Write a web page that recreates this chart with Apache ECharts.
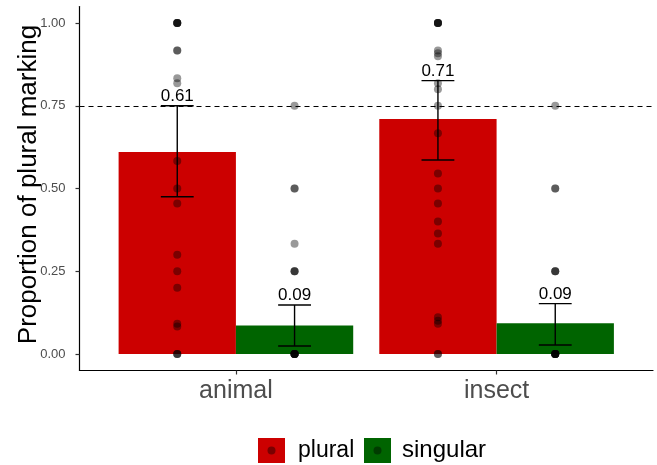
<!DOCTYPE html>
<html><head><meta charset="utf-8">
<script src="https://cdn.jsdelivr.net/npm/echarts@6/dist/echarts.min.js"></script>
<style>html,body{margin:0;padding:0;background:#fff}#c{width:657px;height:465px}</style>
</head><body><div id="c"></div>
<script>
// ---- data ----
const categories = ['animal', 'insect'];
const groups = ['plural', 'singular'];
const pluralMean = [0.61, 0.71];
const singularMean = [0.086, 0.093];
const pluralLow = [0.475, 0.586];
const pluralHigh = [0.75, 0.826];
const singularLow = [0.024, 0.027];
const singularHigh = [0.148, 0.152];
const animalPluralPts = [1, 1, 1, 1, 1, 0.917, 0.917, 0.833, 0.818, 0.583, 0.5, 0.455, 0.3, 0.25, 0.2, 0.091, 0.083, 0, 0, 0];
const animalSingularPts = [0.75, 0.5, 0.5, 0.333, 0.25, 0.25, 0.25, 0, 0, 0, 0, 0, 0, 0, 0];
const insectPluralPts = [1, 1, 1, 1, 1, 0.917, 0.909, 0.9, 0.818, 0.8, 0.75, 0.667, 0.545, 0.5, 0.455, 0.4, 0.364, 0.333, 0.111, 0.1, 0.091, 0, 0];
const insectSingularPts = [0.75, 0.5, 0.5, 0.25, 0.25, 0.25, 0, 0, 0, 0, 0, 0, 0, 0];
const yTicks = [0, 0.25, 0.5, 0.75, 1];
const refLine = 0.75;

// ---- style ----
const colors = ['#cc0000', '#006400'];
const DODGE = 0.225, BARW = 0.45, WHISK = 0.063;
const FONT = 'Liberation Sans, Arial, sans-serif';

function xPos(ci, gi) { return ci + 1 + (gi === 0 ? -DODGE : DODGE); }

const means = [pluralMean, singularMean];
const lows = [pluralLow, singularLow];
const highs = [pluralHigh, singularHigh];
const pts = [[animalPluralPts, animalSingularPts], [insectPluralPts, insectSingularPts]];

function barSeries(gi) {
  return {
    name: groups[gi], type: 'custom', z: 2,
    itemStyle: { color: colors[gi] },
    data: categories.map((c, ci) => [xPos(ci, gi), means[gi][ci]]),
    renderItem: function (params, api) {
      const xc = api.value(0), v = api.value(1);
      const p1 = api.coord([xc - BARW / 2, v]);
      const p2 = api.coord([xc + BARW / 2, 0]);
      return { type: 'rect', shape: { x: p1[0], y: p1[1], width: p2[0] - p1[0], height: p2[1] - p1[1] },
        style: { fill: colors[gi] } };
    }
  };
}

const errData = [];
const scatterData = [];
categories.forEach((c, ci) => {
  groups.forEach((g, gi) => {
    errData.push([xPos(ci, gi), lows[gi][ci], highs[gi][ci], means[gi][ci]]);
    pts[ci][gi].forEach(v => scatterData.push([xPos(ci, gi), v]));
  });
});

const option = {
  animation: false,
  textStyle: { fontFamily: FONT },
  grid: { left: 79.5, right: 4, top: 6.5, bottom: 94.5, containLabel: false, outerBoundsMode: 'none' },
  xAxis: {
    type: 'value', min: 0.4, max: 2.6,
    splitLine: { show: false },
    axisLine: { onZero: false, lineStyle: { color: '#000', width: 1.2 } },
    axisTick: { customValues: [1, 2], length: 4, lineStyle: { color: '#333', width: 1.2 } },
    axisLabel: { customValues: [1, 2], formatter: v => categories[Math.round(v) - 1], fontSize: 25, color: '#4d4d4d', margin: 8, fontFamily: FONT }
  },
  yAxis: {
    type: 'value', min: -0.05, max: 1.05,
    splitLine: { show: false },
    axisLine: { onZero: false, lineStyle: { color: '#000', width: 1.2 } },
    axisTick: { customValues: yTicks, length: 4, lineStyle: { color: '#333', width: 1.2 } },
    axisLabel: { customValues: yTicks, formatter: v => v.toFixed(2), fontSize: 13, color: '#4d4d4d', margin: 14, fontFamily: FONT },
    name: 'Proportion of plural marking', nameLocation: 'middle', nameGap: 38, nameMoveOverlap: false,
    nameTextStyle: { fontSize: 26, color: '#000', fontFamily: FONT, padding: [0, 0, 0, 8] }
  },
  legend: [
    { data: [groups[0]], left: 258, top: 438, padding: 0, itemWidth: 27, itemHeight: 25, icon: 'rect',
      textStyle: { fontSize: 23, color: '#000', padding: [0, 0, 0, 8], fontFamily: FONT }, selectedMode: false },
    { data: [groups[1]], left: 364, top: 438, padding: 0, itemWidth: 27, itemHeight: 25, icon: 'rect',
      textStyle: { fontSize: 24, color: '#000', padding: [0, 0, 0, 6], fontFamily: FONT }, selectedMode: false }
  ],
  graphic: [
    { type: 'circle', shape: { cx: 271.5, cy: 450.5, r: 4 }, style: { fill: 'rgba(0,0,0,0.4)' }, z: 100 },
    { type: 'circle', shape: { cx: 377.5, cy: 450.5, r: 4 }, style: { fill: 'rgba(0,0,0,0.4)' }, z: 100 }
  ],
  series: [
    barSeries(0),
    barSeries(1),
    {
      type: 'scatter', z: 3, symbolSize: 8, silent: true,
      itemStyle: { color: 'rgba(0,0,0,0.4)', opacity: 1 },
      data: scatterData,
      markLine: {
        silent: true, symbol: 'none', label: { show: false },
        lineStyle: { type: [5, 4], color: '#000', width: 1.2 },
        data: [{ yAxis: refLine }]
      }
    },
    {
      type: 'custom', z: 4, silent: true,
      data: errData,
      renderItem: function (params, api) {
        const xc = api.value(0), lo = api.value(1), hi = api.value(2), m = api.value(3);
        const pLo = api.coord([xc, lo]), pHi = api.coord([xc, hi]);
        const l1 = api.coord([xc - WHISK, lo]), r1 = api.coord([xc + WHISK, lo]);
        const l2 = api.coord([xc - WHISK, hi]), r2 = api.coord([xc + WHISK, hi]);
        const ls = { stroke: '#000', lineWidth: 1.4 };
        return { type: 'group', children: [
          { type: 'line', shape: { x1: pLo[0], y1: pLo[1], x2: pHi[0], y2: pHi[1] }, style: ls },
          { type: 'line', shape: { x1: l1[0], y1: l1[1], x2: r1[0], y2: r1[1] }, style: ls },
          { type: 'line', shape: { x1: l2[0], y1: l2[1], x2: r2[0], y2: r2[1] }, style: ls },
          { type: 'text', x: pHi[0], y: pHi[1] - 1, style: { text: m.toFixed(2), fill: '#000', font: '17px ' + FONT, align: 'center', verticalAlign: 'bottom' } }
        ] };
      }
    }
  ]
};
echarts.init(document.getElementById('c')).setOption(option);
</script></body></html>
